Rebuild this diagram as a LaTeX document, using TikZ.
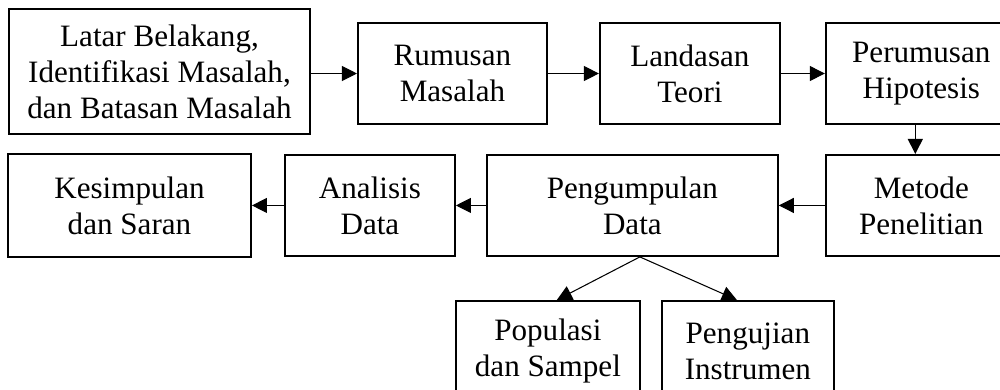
\documentclass[tikz,border=0pt]{standalone}
\usepackage{fontspec}
\setmainfont{Liberation Serif}
\usetikzlibrary{arrows,arrows.meta,positioning}

\begin{document}
\begin{tikzpicture}[->,>={Triangle[length=0.3cm,width=0.3cm]},line width=0.6pt,
  box/.style={draw,line width=1.1pt,align=center,minimum height=2.02cm,inner sep=2pt,
    font=\fontsize{17.7}{20.5}\selectfont}]
  \useasboundingbox (0,0) rectangle (20,-7.78);
  % top row
  \node[box,minimum width=6.02cm,minimum height=2.5cm] (lbm) at (3.19,-1.43) {Latar Belakang,\\Identifikasi Masalah,\\dan Batasan Masalah};
  \node[box,minimum width=3.78cm,right=0.92cm of lbm,yshift=-0.04cm] (rm) {Rumusan\\Masalah};
  \node[box,minimum width=3.6cm,right=1.02cm of rm] (lt) {Landasan\\Teori};
  \node[box,minimum width=3.82cm,right=0.88cm of lt] (ph) {Perumusan\\Hipotesis};
  % second row, right to left
  \node[box,minimum width=3.82cm,below=0.58cm of ph] (mp) {Metode\\Penelitian};
  \node[box,minimum width=5.82cm,left=0.92cm of mp] (pgd) {Pengumpulan\\Data};
  \node[box,minimum width=3.4cm,left=0.6cm of pgd] (ad) {Analisis\\Data};
  \node[box,minimum width=4.86cm,minimum height=2.06cm,left=0.64cm of ad] (ks) {Kesimpulan\\dan Saran};
  % under Pengumpulan Data
  \node[box,minimum width=3.44cm,below right=0.86cm and 0.57cm of pgd.south] (pi) {Pengujian\\Instrumen};
  \node[box,minimum width=3.68cm,left=0.4cm of pi] (ps) {Populasi\\dan Sampel};

  \draw (lbm.east |- rm.west) -- (rm.west);
  \draw (rm) -- (lt);
  \draw (lt) -- (ph);
  \draw ([xshift=-0.12cm]ph.south) -- ([xshift=-0.12cm]mp.north);
  \draw (mp) -- (pgd);
  \draw (pgd) -- (ad);
  \draw (ad.west) -- (ad.west -| ks.east);
  \coordinate (split) at ([xshift=0.15cm]pgd.south);
  \draw (split) -- ([xshift=0.18cm]ps.north);
  \draw (split) -- ([xshift=-0.22cm]pi.north);
\end{tikzpicture}
\end{document}
